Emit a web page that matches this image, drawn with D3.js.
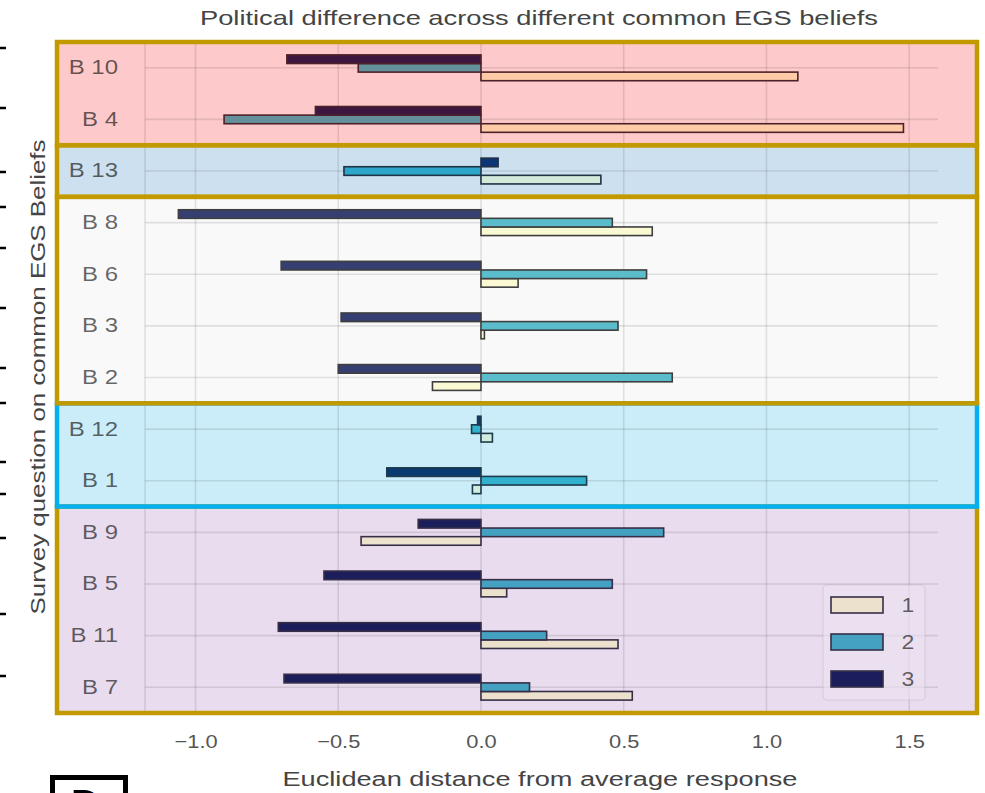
<!DOCTYPE html>
<html>
<head>
<meta charset="utf-8">
<script src="https://cdn.jsdelivr.net/npm/d3@7"></script>
<style>
  body { margin: 0; background: #fff; }
  svg { display: block; font-family: "Liberation Sans", Arial, sans-serif; }
</style>
</head>
<body>
<svg id="chart" width="985" height="793"></svg>
<script>
// Survey beliefs, top to bottom
const categories = ["B 10", "B 4", "B 13", "B 8", "B 6", "B 3", "B 2", "B 12", "B 1", "B 9", "B 5", "B 11", "B 7"];
// Euclidean distance from the average response, one array per political cluster
const series1 = [1.11, 1.48, 0.42, 0.60, 0.13, 0.012, -0.17, 0.04, -0.03, -0.42, 0.09, 0.48, 0.53];
const series2 = [-0.43, -0.90, -0.48, 0.46, 0.58, 0.48, 0.67, -0.033, 0.37, 0.64, 0.46, 0.23, 0.17];
const series3 = [-0.68, -0.58, 0.06, -1.06, -0.70, -0.49, -0.50, -0.012, -0.33, -0.22, -0.55, -0.71, -0.69];
const seriesNames = ["1", "2", "3"];
const xTicks = [-1.0, -0.5, 0.0, 0.5, 1.0, 1.5];
// Belief clusters highlighted with boxes
const beliefGroups = [
  ["B 10", "B 4"],
  ["B 13"],
  ["B 8", "B 6", "B 3", "B 2"],
  ["B 12", "B 1"],
  ["B 9", "B 5", "B 11", "B 7"]
];

// Colours for each highlighted cluster (box tint changes the bar colours)
const groupStyles = [
  { fill: "#fdc9ca", border: "#c29a00", bars: ["#ffcaa6", "#63909b", "#3d1740"], edge: "#4d2129" },
  { fill: "#cde0f0", border: "#c29a00", bars: ["#d3e9da", "#2ca7c9", "#0b3577"], edge: "#1f3345" },
  { fill: "#f9f9f9", border: "#c29a00", bars: ["#fbf9d3", "#5bbdcc", "#353f71"], edge: "#3f3f3f" },
  { fill: "#cbedf9", border: "#00b0f0", bars: ["#d1eddd", "#31b1ce", "#083a72"], edge: "#1f3a4a" },
  { fill: "#e8dcee", border: "#c29a00", bars: ["#ece1cd", "#45a1c2", "#1b1e5b"], edge: "#362f47" }
];

const allSeries = [series1, series2, series3];
const svg = d3.select("#chart");

const plot = { left: 145, right: 938, top: 42, bottom: 713 };
const boxLeft = 57, boxRight = 977;

const x = d3.scaleLinear().domain([-1.177, 1.601]).range([plot.left, plot.right]);
const y = d3.scaleBand().domain(categories).range([plot.top, plot.bottom]).padding(0);
const inner = d3.scaleBand().domain(["3", "2", "1"]).range([0, y.bandwidth() * 0.5]).padding(0);
const barOffset = y.bandwidth() * 0.25;

const groupOf = {};
beliefGroups.forEach((g, i) => g.forEach(c => { groupOf[c] = i; }));

// horizontal text stretch helper
function stretch(sel, k) {
  sel.each(function () {
    const len = this.getComputedTextLength();
    d3.select(this).attr("textLength", len * k).attr("lengthAdjust", "spacingAndGlyphs");
  });
}

// cluster box fills
const boxes = beliefGroups.map((g, i) => ({
  i,
  y0: y(g[0]),
  y1: y(g[g.length - 1]) + y.bandwidth()
}));
svg.append("g").selectAll("rect").data(boxes).join("rect")
  .attr("x", boxLeft).attr("width", boxRight - boxLeft)
  .attr("y", d => d.y0).attr("height", d => d.y1 - d.y0)
  .attr("fill", d => groupStyles[d.i].fill);

// grid
const grid = svg.append("g").attr("stroke", "rgba(0,0,0,0.1)").attr("stroke-width", 1.6);
grid.selectAll("line.v").data(xTicks).join("line").attr("class", "v")
  .attr("x1", d => x(d)).attr("x2", d => x(d))
  .attr("y1", plot.top).attr("y2", plot.bottom);
grid.append("line").attr("x1", plot.left).attr("x2", plot.left)
  .attr("y1", plot.top).attr("y2", plot.bottom);
grid.selectAll("line.h").data(categories).join("line").attr("class", "h")
  .attr("x1", plot.left).attr("x2", plot.right)
  .attr("y1", d => y(d) + y.bandwidth() / 2).attr("y2", d => y(d) + y.bandwidth() / 2);

// bars
const barData = [];
allSeries.forEach((vals, s) => {
  vals.forEach((v, ci) => barData.push({ cat: categories[ci], s, v }));
});
svg.append("g").selectAll("rect").data(barData).join("rect")
  .attr("x", d => Math.min(x(0), x(d.v)))
  .attr("width", d => Math.abs(x(d.v) - x(0)))
  .attr("y", d => y(d.cat) + barOffset + inner(seriesNames[d.s]))
  .attr("height", inner.bandwidth())
  .attr("fill", d => groupStyles[groupOf[d.cat]].bars[d.s])
  .attr("stroke", d => groupStyles[groupOf[d.cat]].edge)
  .attr("stroke-width", 1.6);

// y tick labels
const yAxis = svg.append("g").attr("transform", `translate(${plot.left - 27},0)`)
  .call(d3.axisLeft(y).tickSize(0).tickPadding(0));
yAxis.select(".domain").remove();
yAxis.selectAll("text")
  .attr("font-size", 20).attr("font-family", "Liberation Sans, Arial, sans-serif")
  .attr("fill", "rgba(0,0,0,0.6)").attr("x", 0)
  .call(stretch, 1.2);

// x axis
const xAxis = svg.append("g").attr("transform", `translate(0,${plot.bottom})`)
  .call(d3.axisBottom(x).tickValues(xTicks).tickFormat(d3.format(".1f")).tickSize(0).tickPadding(22));
xAxis.select(".domain").remove();
xAxis.selectAll("text")
  .attr("font-size", 19).attr("font-family", "Liberation Sans, Arial, sans-serif")
  .attr("fill", "#555")
  .call(stretch, 1.15);

// legend
const lg = groupStyles[4];
const legend = svg.append("g").attr("transform", "translate(823,585)");
legend.append("rect").attr("width", 102).attr("height", 115).attr("rx", 4)
  .attr("fill", "rgba(236,226,241,0.6)").attr("stroke", "rgba(0,0,0,0.08)").attr("stroke-width", 1.2);
const legendY = d3.scalePoint().domain(seriesNames).range([20, 94]);
const items = legend.selectAll("g.item").data(seriesNames).join("g").attr("class", "item")
  .attr("transform", d => `translate(0,${legendY(d)})`);
items.append("rect").attr("x", 8).attr("y", -8).attr("width", 52).attr("height", 16)
  .attr("fill", (d, i) => lg.bars[i]).attr("stroke", lg.edge).attr("stroke-width", 1.6);
items.append("text").attr("x", 85).attr("y", 7).attr("text-anchor", "middle")
  .attr("font-size", 20).attr("fill", "rgba(0,0,0,0.6)").text(d => d)
  .call(stretch, 1.15);

// cluster borders, lower boxes first
svg.append("g").selectAll("rect").data(boxes.slice().reverse()).join("rect")
  .attr("x", boxLeft).attr("width", boxRight - boxLeft)
  .attr("y", d => d.y0).attr("height", d => d.y1 - d.y0)
  .attr("fill", "none")
  .attr("stroke", d => groupStyles[d.i].border)
  .attr("stroke-width", 4.5);

// titles
svg.append("text").attr("x", 539).attr("y", 25).attr("text-anchor", "middle")
  .attr("font-size", 21).attr("fill", "#444")
  .attr("textLength", 678).attr("lengthAdjust", "spacingAndGlyphs")
  .text("Political difference across different common EGS beliefs");
svg.append("text").attr("x", 540).attr("y", 786).attr("text-anchor", "middle")
  .attr("font-size", 20).attr("fill", "#444")
  .attr("textLength", 515).attr("lengthAdjust", "spacingAndGlyphs")
  .text("Euclidean distance from average response");
svg.append("text").attr("transform", "translate(45,377) rotate(-90)").attr("text-anchor", "middle")
  .attr("font-size", 20).attr("fill", "#444")
  .attr("textLength", 475).attr("lengthAdjust", "spacingAndGlyphs")
  .text("Survey question on common EGS Beliefs");

// panel edge marks and panel letter
const edgeMarks = [48, 108, 172, 207, 248, 308, 368, 403, 462, 494, 538, 614, 676];
svg.append("g").selectAll("line").data(edgeMarks).join("line")
  .attr("x1", 0).attr("x2", 6).attr("y1", d => d).attr("y2", d => d)
  .attr("stroke", "#000").attr("stroke-width", 2.5);
svg.append("rect").attr("x", 52.5).attr("y", 777.5).attr("width", 73).attr("height", 40)
  .attr("fill", "#fff").attr("stroke", "#000").attr("stroke-width", 5);
svg.append("text").attr("x", 71).attr("y", 818).attr("font-size", 40).attr("font-weight", "bold")
  .attr("fill", "#000").text("D");
</script>
</body>
</html>
